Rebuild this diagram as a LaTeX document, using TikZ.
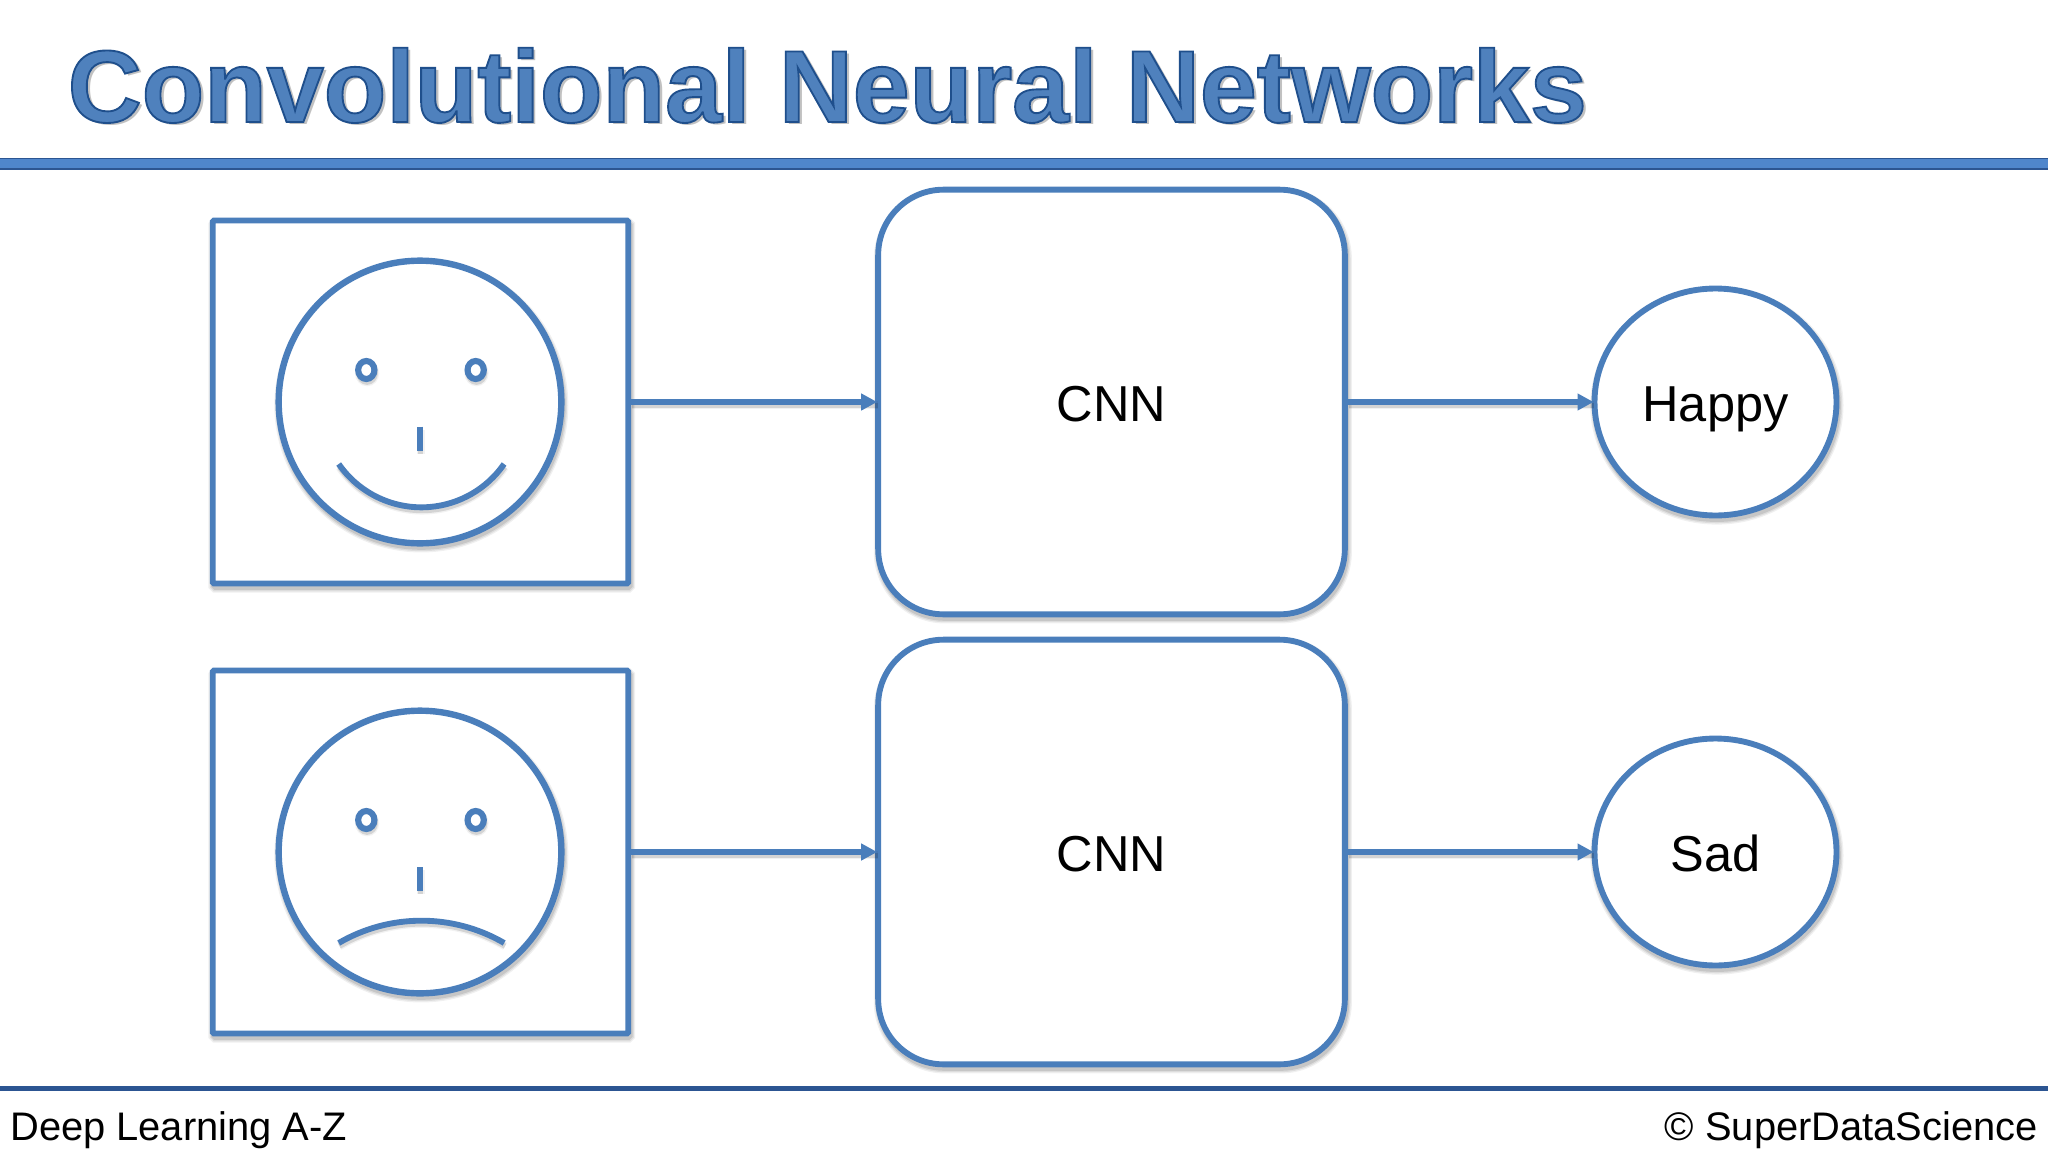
\documentclass[tikz,border=0pt]{standalone}
\usepackage{fontspec}
\setmainfont{Liberation Sans}
\usetikzlibrary{arrows.meta,shapes.geometric,calc}
\definecolor{lineblue}{HTML}{4A7EBB}
\definecolor{titleblue}{HTML}{4F81BD}
\definecolor{barblue}{HTML}{4F86CC}
\definecolor{ruleblue}{HTML}{2C5592}
\tikzset{
  x=0.75pt,y=-0.75pt,
  soft/.style={
    preaction={draw=black,draw opacity=.06,line width=8.5pt,transform canvas={xshift=1pt,yshift=-2.6pt}},
    preaction={draw=black,draw opacity=.08,line width=6.5pt,transform canvas={xshift=1pt,yshift=-2.6pt}},
    preaction={draw=black,draw opacity=.10,line width=4.5pt,transform canvas={xshift=1pt,yshift=-2.6pt}}},
  softthin/.style={
    preaction={draw=black,arrows=-,draw opacity=.05,line width=6pt,transform canvas={xshift=.6pt,yshift=-2.4pt}},
    preaction={draw=black,arrows=-,draw opacity=.12,line width=4pt,transform canvas={xshift=.6pt,yshift=-2.4pt}}},
  box/.style={draw=lineblue,line width=4.4pt,fill=white,soft,inner sep=0pt,rectangle},
  picbox/.style={box,minimum width=311.6pt,minimum height=272.2pt,rounded corners=1pt},
  cnn/.style={box,minimum width=350pt,minimum height=318.5pt,rounded corners=49pt,font=\fontsize{37.9pt}{44pt}\selectfont,text height=29pt,text depth=0pt},
  outn/.style={draw=lineblue,line width=4.4pt,fill=white,soft,ellipse,inner sep=0pt,minimum width=181.5pt,minimum height=170.2pt,font=\fontsize{37.9pt}{44pt}\selectfont,text height=29pt,text depth=0pt},
  face/.style={draw=lineblue,line width=4.8pt,fill=white,soft,circle,inner sep=0pt,minimum size=212pt},
  eye/.style={draw=lineblue,line width=4.6pt,fill=white,softthin,ellipse,inner sep=0pt,minimum width=12.2pt,minimum height=13.5pt},
  feat/.style={draw=lineblue,line width=4.4pt,softthin},
  conn/.style={draw=lineblue,line width=4.4pt,softthin,-{Triangle[length=12pt,width=12pt]},shorten >=-1.5pt},
  titlet/.style={font=\fontsize{76.8pt}{90pt}\bfseries\selectfont,inner sep=0pt,anchor=base west},
  foot/.style={font=\fontsize{29.9pt}{34pt}\selectfont,inner sep=0pt,text=black},
}
\begin{document}
\begin{tikzpicture}
\useasboundingbox (0,0) rectangle (2048,1152);
\fill[white] (0,0) rectangle (2048,1152);
% title
\node[titlet,text=black!60,opacity=.4] (titleshadow) at (71,125) {Convolutional Neural Networks};
\node[titlet,text=titleblue] (title) at (67.5,122) {\special{pdf:literal 2 Tr 1.4 w 0.12 0.31 0.55 RG}Convolutional Neural Networks\special{pdf:literal 0 Tr}};
% rules
\fill[barblue] (0,158) rectangle (2048,170);
\coordinate (barL) at (0,158.5); \coordinate (barR) at (2048,158.5);
\coordinate (barLb) at (0,169); \coordinate (barRb) at (2048,169);
\draw[ruleblue,line width=1.5pt] (barLb) -- (barRb);
\draw[ruleblue,line width=1pt] (barL) -- (barR);
\coordinate (footL) at (0,1088.5); \coordinate (footR) at (2048,1088.5);
\draw[ruleblue,line width=3.4pt] (footL) -- (footR);
% row 1
\node[picbox] (p1) at (420.5,402) {};
\node[face] (f1) at (420,402) {};
\node[eye] (e1a) at (366.3,370) {};
\node[eye] (e1b) at (475.7,370) {};
\draw[feat] (420,426.7) -- (420,450.7);
\draw[feat] (338.7,464) arc[start angle=145.3,end angle=34.7,radius=100.6];
\node[cnn] (c1) at (1111.5,402) {CNN};
\node[outn] (o1) at (1715.5,402) {Happy};
\draw[conn] (p1) -- (c1);
\draw[conn] (c1) -- (o1);
% row 2
\node[picbox] (p2) at (420.5,852) {};
\node[face] (f2) at (420,852) {};
\node[eye] (e2a) at (366.3,820) {};
\node[eye] (e2b) at (475.7,820) {};
\draw[feat] (420,867) -- (420,891);
\draw[feat] (338.7,943) arc[start angle=-120.2,end angle=-59.8,radius=164.5];
\node[cnn] (c2) at (1111.5,852) {CNN};
\node[outn] (o2) at (1715.5,852) {Sad};
\draw[conn] (p2) -- (c2);
\draw[conn] (c2) -- (o2);
% footer
\node[foot,anchor=base west] (fl) at (10,1140) {Deep Learning A-Z};
\node[foot,anchor=base east] (fr) at (2038,1140) {© SuperDataScience};
\end{tikzpicture}
\end{document}
